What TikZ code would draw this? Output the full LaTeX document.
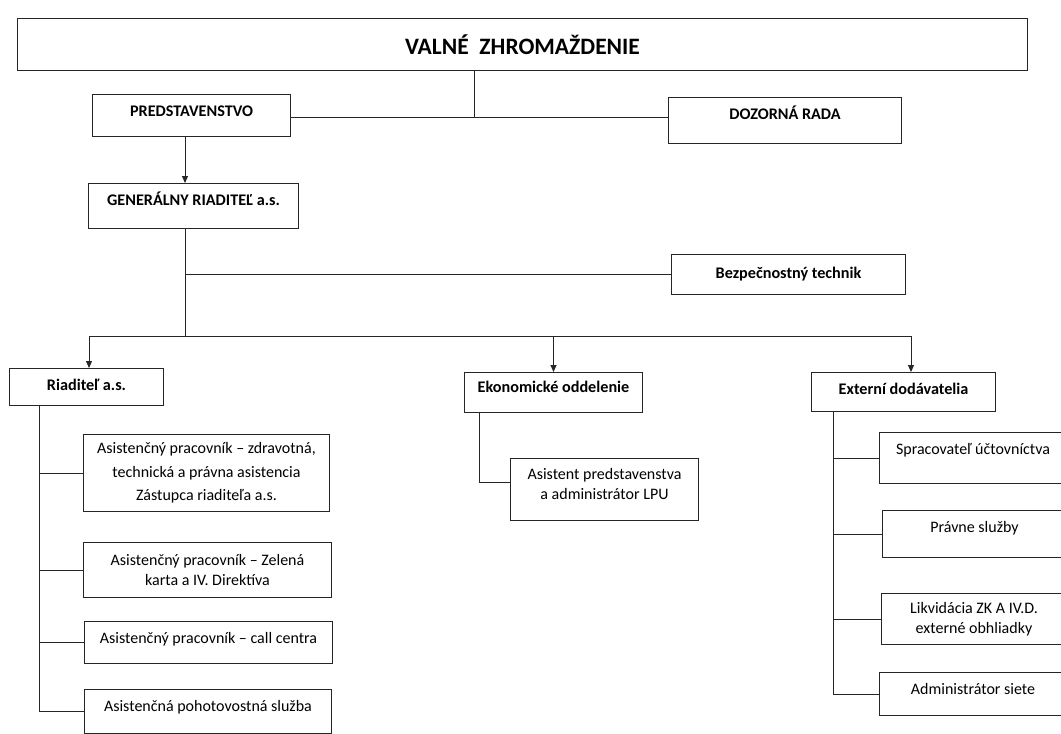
\documentclass[tikz,border=0pt]{standalone}
\usepackage{fontspec}
\setmainfont{Carlito}
\usetikzlibrary{calc}
\usetikzlibrary{positioning}
\usetikzlibrary{arrows.meta}

\tikzset{
    box/.style={rectangle, draw=black!85, line width=1pt, anchor=north west, align=center, inner sep=0pt, font=\fontsize{16}{20}\selectfont},
    headbox/.style={box, text height=22pt, font=\bfseries\fontsize{16.2}{19}\selectfont},
    topbox/.style={box, text height=22pt},
    link/.style={draw=black!85, line width=0.9pt},
    arrow/.style={link, -{Triangle[length=7pt, width=6pt]}},
}

\begin{document}
\begin{tikzpicture}[x=1pt, y=-1pt]
    \useasboundingbox (0,0) rectangle (1061,734);

    \node [box, minimum width=1010pt, minimum height=52pt, font=\bfseries\fontsize{23.5}{28}\selectfont] (valne) at (17,18) {VALNÉ\ \ ZHROMAŽDENIE};
    \node [headbox, minimum width=198pt, text depth=20pt] (predst) at (92,94) {PREDSTAVENSTVO};
    \node [headbox, minimum width=233pt, text depth=24pt] (dozor) at (668,97) {DOZORNÁ RADA};
    \node [headbox, minimum width=210pt, text depth=23pt] (genriad) at (88,183) {GENERÁLNY RIADITEĽ a.s.};
    \node [headbox, minimum width=234pt, text height=24pt, text depth=16pt] (bezp) at (671,254) {Bezpečnostný technik};

    \node [headbox, minimum width=154pt, text depth=15pt] (riad) at (9,368) {Riaditeľ a.s.};
    \node [headbox, minimum width=178pt, text height=20pt, text depth=20pt] (ekon) at (464,372) {Ekonomické oddelenie};
    \node [headbox, minimum width=184pt, text depth=17pt] (extern) at (811,372) {Externí dodávatelia};

    \node [box, minimum width=246pt, minimum height=77pt] (asist1) at (83,434) {Asistenčný pracovník – zdravotná,\\[4pt] technická a právna asistencia\\[3pt] Zástupca riaditeľa a.s.};
    \node [box, minimum width=248pt, minimum height=55pt] (asist2) at (83,542) {Asistenčný pracovník – Zelená\\ karta a IV. Direktíva};
    \node [topbox, minimum width=248pt, text depth=20pt] (asist3) at (84,621) {Asistenčný pracovník – call centra};
    \node [topbox, minimum width=247pt, text depth=22pt] (asist4) at (84,689) {Asistenčná pohotovostná služba};

    \node [topbox, minimum width=188pt, text height=41pt, text depth=21pt] (asistlpu) at (510,458) {Asistent predstavenstva\\ a administrátor LPU};

    \node [topbox, minimum width=187pt, text depth=29pt] (sprac) at (879,432) {Spracovateľ účtovníctva};
    \node [topbox, minimum width=184pt, text depth=25pt] (pravne) at (882,510) {Právne služby};
    \node [box, minimum width=185pt, minimum height=51pt] (likvid) at (881,593) {Likvidácia ZK A IV.D.\\ externé obhliadky};
    \node [topbox, minimum width=187pt, text depth=21pt] (admin) at (879,672) {Administrátor siete};

    \coordinate (valnejoin) at (474,117);
    \coordinate (gtrunk) at (185,336);
    \coordinate (branchleft) at (89,336);
    \coordinate (branchright) at (911,336);
    \coordinate (riadspine) at (39,405);
    \coordinate (ekonspine) at (479,412);
    \coordinate (externspine) at (833,411);

    \draw [link] (valnejoin |- valne.south) -- (valnejoin);
    \draw [link] (predst.east |- valnejoin) -- (dozor.west |- valnejoin);
    \draw [arrow] (gtrunk |- predst.south) -- (gtrunk |- genriad.north);
    \draw [link] (gtrunk |- genriad.south) -- (gtrunk);
    \draw [link] (gtrunk |- bezp.west) -- (bezp.west);

    \draw [link] (branchleft) -- (branchright);
    \draw [arrow] (branchleft) -- (branchleft |- riad.north);
    \draw [arrow] (ekon.north |- branchleft) -- (ekon.north);
    \draw [arrow] (branchright) -- (branchright |- extern.north);

    \draw [link] (riadspine) |- (asist4.west);
    \draw [link] (riadspine |- asist1.west) -- (asist1.west);
    \draw [link] (riadspine |- asist2.west) -- (asist2.west);
    \draw [link] (riadspine |- asist3.west) -- (asist3.west);

    \draw [link] (ekonspine) |- ([yshift=7pt]asistlpu.west);

    \draw [link] (externspine) |- (admin.west);
    \draw [link] (externspine |- sprac.west) -- (sprac.west);
    \draw [link] (externspine |- pravne.west) -- (pravne.west);
    \draw [link] (externspine |- likvid.west) -- (likvid.west);
\end{tikzpicture}
\end{document}
